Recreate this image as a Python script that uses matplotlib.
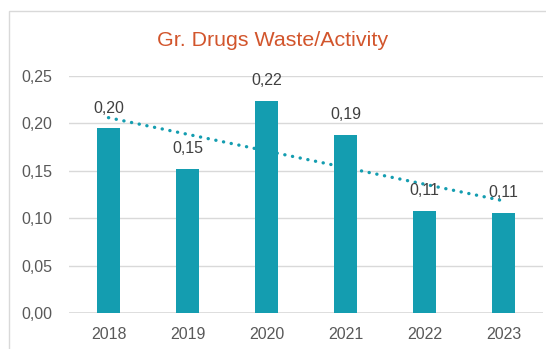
import numpy as np
import matplotlib
matplotlib.use("Agg")
import matplotlib.pyplot as plt
from matplotlib.patches import Rectangle

years = ["2018", "2019", "2020", "2021", "2022", "2023"]
waste_per_activity = [0.195, 0.152, 0.224, 0.188, 0.108, 0.106]
y_ticks = [0.00, 0.05, 0.10, 0.15, 0.20, 0.25]

BAR = "#149db0"
TITLE = "#d2552c"
TEXT = "#595959"
GRID = "#d9d9d9"

plt.rcParams["font.family"] = ["Liberation Sans", "DejaVu Sans"]

W, H = 546, 349
fig = plt.figure(figsize=(W / 100, H / 100), dpi=100)
fig.patch.set_facecolor("white")

# chart frame
fig.patches.append(Rectangle((9 / W, -0.05), 1.2, 1 - 11 / H + 0.05,
                             transform=fig.transFigure, fill=False,
                             edgecolor="#d9d9d9", linewidth=1.0))

ax = fig.add_axes([69 / W, 1 - 313.3 / H, (543 - 69) / W, (313.3 - 75.8) / H])
x = np.arange(len(years))
ax.bar(x, waste_per_activity, width=0.30, color=BAR, zorder=2)

# linear trend as round dots, drawn behind the bars
coef = np.polyfit(x, waste_per_activity, 1)
ax.plot(x, np.polyval(coef, x), linestyle=(0, (0.05, 2.3)), color=BAR,
        linewidth=2.4, dash_capstyle="round", zorder=1.5)

for xi, v in zip(x, waste_per_activity):
    ax.annotate(f"{v:.2f}".replace(".", ","), (xi, v), xytext=(0, 9),
                textcoords="offset points", ha="center", va="bottom",
                fontsize=11.5, color="#404040", zorder=4)

ax.set_xlim(-0.5, len(years) - 0.5)
ax.set_ylim(0, 0.25)
ax.set_yticks(y_ticks)
ax.set_yticklabels([f"{t:.2f}".replace(".", ",") for t in y_ticks])
ax.set_xticks(x)
ax.set_xticklabels(years)
ax.tick_params(axis="both", length=0, labelsize=11.5, labelcolor=TEXT)
ax.tick_params(axis="y", pad=12)
ax.tick_params(axis="x", pad=10)
ax.grid(axis="y", color=GRID, linewidth=1.0, zorder=0)
ax.set_axisbelow(True)
for s in ax.spines.values():
    s.set_visible(False)
ax.axhline(0, color=GRID, linewidth=1.2, zorder=1)

fig.text(273 / W, 1 - 41 / H, "Gr. Drugs Waste/Activity", ha="center",
         va="center", fontsize=15.4, color=TITLE)

fig.savefig("out.png", dpi=100, facecolor="white")
